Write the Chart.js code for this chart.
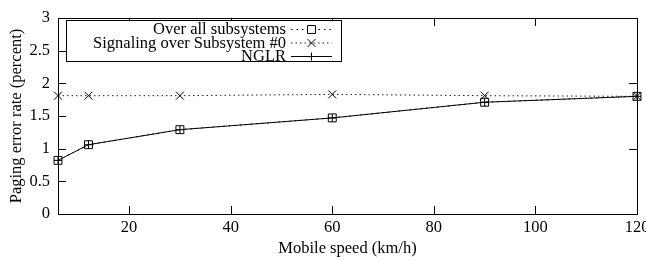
<!DOCTYPE html>
<html>
<head>
<meta charset="utf-8">
<script src="https://cdn.jsdelivr.net/npm/chart.js@4/dist/chart.umd.min.js"></script>
<style>
  html, body { margin: 0; padding: 0; overflow: hidden; background: #fff; }
  #wrap { width: 646px; height: 261px; overflow: hidden; }
</style>
</head>
<body>
<div id="wrap"><canvas id="c" width="700" height="261"></canvas></div>
<script>
// ---- data ----
const speeds = [6, 12, 30, 60, 90, 120];
const overallSubsystems = [0.82, 1.06, 1.29, 1.47, 1.71, 1.80];
const signalingSub0 = [1.81, 1.81, 1.81, 1.83, 1.81, 1.80];
const nglr = [0.82, 1.06, 1.29, 1.47, 1.71, 1.80];
const seriesNames = ['Over all subsystems', 'Signaling over Subsystem #0', 'NGLR'];
const xTickValues = [20, 40, 60, 80, 100, 120];
const yTickValues = [0, 0.5, 1, 1.5, 2, 2.5, 3];
const yTickLabels = ['0', '0.5', '1', '1.5', '2', '2.5', '3'];
const rightTickValues = [1, 2];
const xTitle = 'Mobile speed (km/h)';
const yTitle = 'Paging error rate (percent)';

const FONT = 'Liberation Serif, Times New Roman, serif';
const FS = 16.5;
const pts = (arr) => speeds.map((s, i) => ({x: s, y: arr[i]}));

const datasets = [
  { label: seriesNames[0], data: pts(overallSubsystems), borderColor: '#000', borderWidth: 1,
    borderDash: [1.5, 4], pointStyle: 'rect', pointRadius: 5.6, pointBorderWidth: 1,
    pointBackgroundColor: 'rgba(0,0,0,0)', pointBorderColor: '#000', clip: false },
  { label: seriesNames[1], data: pts(signalingSub0), borderColor: '#222', borderWidth: 1,
    borderDash: [1.5, 3], pointStyle: 'crossRot', pointRadius: 5.6, pointBorderWidth: 1,
    pointBorderColor: '#000', clip: false },
  { label: seriesNames[2], data: pts(nglr), borderColor: '#000', borderWidth: 1,
    pointStyle: 'cross', pointRadius: 4, pointBorderWidth: 1, pointBorderColor: '#000', clip: false }
];

const framePlugin = {
  id: 'frame',
  afterDatasetsDraw(chart) {
    const {ctx, chartArea: a, scales: {x, y}} = chart;
    ctx.save();
    ctx.strokeStyle = '#000';
    ctx.lineWidth = 1;
    ctx.setLineDash([]);
    ctx.strokeRect(Math.round(a.left) + 0.5, Math.round(a.top) + 0.5,
                   Math.round(a.right - a.left), Math.round(a.bottom - a.top));
    const L = 8;
    ctx.beginPath();
    yTickValues.forEach(v => {
      const py = Math.round(y.getPixelForValue(v)) + 0.5;
      ctx.moveTo(a.left, py); ctx.lineTo(a.left + L, py);
    });
    rightTickValues.forEach(v => {
      const py = Math.round(y.getPixelForValue(v)) + 0.5;
      ctx.moveTo(a.right, py); ctx.lineTo(a.right - L, py);
    });
    xTickValues.forEach(v => {
      const px = Math.round(x.getPixelForValue(v)) + 0.5;
      ctx.moveTo(px, a.bottom); ctx.lineTo(px, a.bottom - L);
      if (v < x.max) { ctx.moveTo(px, a.top); ctx.lineTo(px, a.top + L); }
    });
    ctx.stroke();

    // legend
    const bx = 66, by = 20, bw = 275, bh = 41;
    ctx.fillStyle = '#fff';
    ctx.fillRect(bx, by, bw, bh);
    ctx.strokeRect(bx + 0.5, by + 0.5, bw, bh);
    ctx.font = FS + 'px ' + FONT;
    ctx.textAlign = 'right';
    ctx.textBaseline = 'middle';
    const rows = [29, 42.5, 56];
    chart.data.datasets.forEach((ds, i) => {
      const ry = rows[i];
      ctx.fillStyle = '#000';
      ctx.fillText(ds.label, 286, ry + 1);
      ctx.beginPath();
      ctx.setLineDash(ds.borderDash || []);
      ctx.strokeStyle = ds.borderColor;
      ctx.moveTo(291, ry + 0.5); ctx.lineTo(332, ry + 0.5);
      ctx.stroke();
      ctx.setLineDash([]);
      ctx.strokeStyle = '#000';
      ctx.fillStyle = '#fff';
      Chart.helpers.drawPoint(ctx, {pointStyle: ds.pointStyle, radius: ds.pointRadius,
        rotation: 0, borderWidth: 1}, 311.5, ry + 0.5);
    });
    ctx.restore();
  }
};

new Chart(document.getElementById('c'), {
  type: 'line',
  data: { datasets },
  plugins: [framePlugin],
  options: {
    responsive: false,
    animation: false,
    devicePixelRatio: 1,
    layout: { padding: { left: 0, right: 63, top: 13, bottom: 0 } },
    plugins: { legend: { display: false }, tooltip: { enabled: false } },
    scales: {
      x: {
        type: 'linear', min: 6, max: 120,
        grid: { display: false, drawTicks: false },
        border: { display: false },
        afterBuildTicks: (s) => { s.ticks = xTickValues.map(v => ({value: v})); },
        afterFit: (s) => { s.height = 47; },
        ticks: { color: '#000', font: { family: FONT, size: FS }, padding: 4, maxRotation: 0,
                 autoSkip: false, callback: (v) => String(v) },
        title: { display: true, text: xTitle, color: '#000', font: { family: FONT, size: FS },
                 padding: { top: 0, bottom: 2 } }
      },
      y: {
        min: 0, max: 3,
        grid: { display: false, drawTicks: false },
        border: { display: false },
        afterBuildTicks: (s) => { s.ticks = yTickValues.map(v => ({value: v})); },
        afterFit: (s) => { s.width = 58; },
        ticks: { color: '#000', font: { family: FONT, size: FS }, padding: 8,
                 callback: (v) => yTickLabels[yTickValues.indexOf(v)] ?? String(v) },
        title: { display: true, text: yTitle, color: '#000', font: { family: FONT, size: FS },
                 padding: { top: 7, bottom: 0 } }
      }
    }
  }
});
</script>
</body>
</html>
